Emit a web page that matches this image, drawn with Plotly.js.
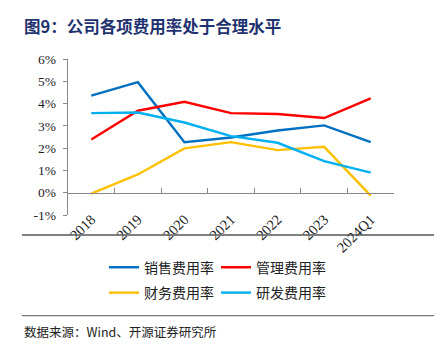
<!DOCTYPE html>
<html><head><meta charset="utf-8">
<script src="https://cdn.plot.ly/plotly-3.0.1.min.js"></script>
<style>body{margin:0;padding:0;background:#fff}#chart{width:434px;height:349px}</style>
</head><body><div id="chart"></div>
<script>
const categories = ['2018','2019','2020','2021','2022','2023','2024Q1'];
const salesRate = [4.36, 4.96, 2.27, 2.48, 2.79, 3.02, 2.27];
const mgmtRate = [2.39, 3.68, 4.08, 3.57, 3.53, 3.35, 4.23];
const finRate = [-0.04, 0.82, 1.99, 2.27, 1.91, 2.06, -0.13];
const rdRate = [3.57, 3.60, 3.15, 2.54, 2.24, 1.42, 0.90];
const seriesNames = ['销售费用率','管理费用率','财务费用率','研发费用率'];
const yTickVals = [-1,0,1,2,3,4,5,6];
const yTickText = ['-1%','0%','1%','2%','3%','4%','5%','6%'];

const cjk = '"Noto Sans CJK SC", sans-serif';
const serif = '"Liberation Serif", "Times New Roman", serif';
const lw = 2.4;
const traces = [
  {x: categories, y: salesRate, name: seriesNames[0], type:'scatter', mode:'lines', line:{color:'#0070C0', width:lw}, legend:'legend'},
  {x: categories, y: mgmtRate, name: seriesNames[1], type:'scatter', mode:'lines', line:{color:'#FF0000', width:lw}, legend:'legend'},
  {x: categories, y: finRate, name: seriesNames[2], type:'scatter', mode:'lines', line:{color:'#FFC000', width:lw}, legend:'legend2'},
  {x: categories, y: rdRate, name: seriesNames[3], type:'scatter', mode:'lines', line:{color:'#00B0F0', width:lw}, legend:'legend2'},
  {x: categories, y: categories.map(()=>null), xaxis:'x2', yaxis:'y', type:'scatter', mode:'lines', showlegend:false, hoverinfo:'skip'}
];
const legendCommon = {orientation:'h', xref:'container', yref:'container', xanchor:'left', yanchor:'middle',
  font:{family:cjk, size:14, color:'#222'}, entrywidth:67, bgcolor:'rgba(0,0,0,0)', itemwidth:30, tracegroupgap:0};
const layout = {
  width:434, height:349,
  margin:{l:68, r:40, t:59, b:134},
  paper_bgcolor:'#fff', plot_bgcolor:'#fff',
  showlegend:true,
  legend: Object.assign({}, legendCommon, {x:104/434, y:1-267.7/349}),
  legend2: Object.assign({}, legendCommon, {x:104/434, y:1-293/349}),
  xaxis:{type:'category', range:[-0.5,6.5], anchor:'free', position:0.05, showline:false, ticks:'',
    tickangle:-45, tickfont:{family:serif, size:14.5, color:'#222'}, showgrid:false, zeroline:false, fixedrange:true},
  xaxis2:{type:'category', overlaying:'x', matches:'x', anchor:'free', position:1/7, showline:true, linecolor:'#888', linewidth:1.3,
    ticks:'inside', ticklen:5, tickcolor:'#888', tickson:'boundaries', showticklabels:false, showgrid:false, zeroline:false},
  yaxis:{range:[-1,6], tickvals:yTickVals, ticktext:yTickText, showline:true, linecolor:'#888', linewidth:1.3,
    ticks:'outside', ticklen:4, tickcolor:'#888', showgrid:false, zeroline:false,
    tickfont:{family:serif, size:13.5, color:'#222'}, ticklabelstandoff:4},
  shapes:[
    {type:'line', xref:'paper', yref:'paper', x0:-46/326, x1:366/326, y0:(349-134-39)/(-156)+1, y1:(349-134-39)/(-156)+1, line:{color:'#555', width:1.5}},
    {type:'line', xref:'paper', yref:'paper', x0:-46/326, x1:366/326, y0:-(315.7-215)/156, y1:-(315.7-215)/156, line:{color:'#777', width:1.2}}
  ],
  annotations:[
    {text:'<b>图9：公司各项费用率处于合理水平</b>', xref:'paper', yref:'paper', x:-46/326, y:1+(59-26)/156, xanchor:'left', yanchor:'middle', showarrow:false,
     font:{family:cjk, size:16.5, color:'#1F3370'}},
    {text:'数据来源：Wind、开源证券研究所', xref:'paper', yref:'paper', x:-46/326, y:-(331-215)/156, xanchor:'left', yanchor:'middle', showarrow:false,
     font:{family:cjk, size:12.5, color:'#222'}}
  ]
};
Plotly.newPlot('chart', traces, layout, {staticPlot:true, displayModeBar:false});
</script></body></html>
